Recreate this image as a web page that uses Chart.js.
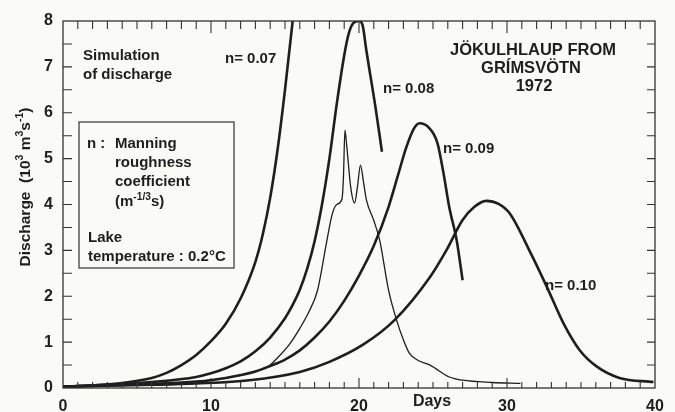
<!DOCTYPE html>
<html>
<head>
<meta charset="utf-8">
<script src="https://cdn.jsdelivr.net/npm/chart.js@4.4.1/dist/chart.umd.min.js"></script>
<style>
body { margin: 0; background: #fafaf7; }
canvas { display: block; }
</style>
</head>
<body>
<canvas id="hlaup" width="675" height="412"></canvas>
<script>
// simulated discharge (10^3 m3/s) against days
var n07Days = [0, 2, 4, 6, 7, 8, 9, 10, 11, 12, 13, 13.5, 14, 14.5, 15, 15.5, 16];
var n07Q    = [0.03, 0.06, 0.11, 0.22, 0.33, 0.5, 0.72, 1.02, 1.4, 1.95, 2.75, 3.35, 4.15, 5.2, 6.5, 7.95, 9.5];

var n08Days = [0, 3, 6, 9, 10, 11, 12, 13, 14, 15, 15.5, 16, 16.5, 17, 17.5, 18, 18.5, 19.0, 19.3, 19.6, 20.0, 20.25, 20.5, 20.8, 21.1, 21.55];
var n08Q    = [0.03, 0.07, 0.13, 0.24, 0.32, 0.43, 0.58, 0.8, 1.1, 1.52, 1.8, 2.14, 2.6, 3.2, 4.0, 5.0, 6.2, 7.25, 7.72, 7.95, 8.0, 7.9, 7.35, 6.75, 6.15, 5.15];

var n09Days = [0, 3, 6, 9, 11, 13, 14, 15, 16, 17, 18, 19, 20, 21, 22, 22.6, 23.2, 23.7, 24.1, 24.7, 25.3, 25.7, 26.1, 26.6, 27.0];
var n09Q    = [0.03, 0.06, 0.09, 0.14, 0.22, 0.36, 0.48, 0.62, 0.82, 1.1, 1.45, 1.9, 2.45, 3.1, 3.95, 4.6, 5.25, 5.65, 5.77, 5.68, 5.34, 4.7, 3.94, 3.22, 2.35];

var n10Days = [0, 3, 6, 9, 12.6, 16, 18, 20.3, 22.4, 24.8, 25.9, 27, 27.8, 28.6, 29.4, 30.2, 31.6, 32.7, 33.8, 34.9, 36.1, 37.6, 39.9];
var n10Q    = [0.03, 0.05, 0.07, 0.1, 0.17, 0.35, 0.57, 0.95, 1.48, 2.42, 3.0, 3.66, 3.95, 4.08, 4.02, 3.8, 2.94, 2.2, 1.42, 0.83, 0.46, 0.22, 0.13];

// thin curve with the double spike
var thinDays = [0, 3, 6, 9, 11, 13, 14, 14.5, 15.3, 16, 16.6, 17.2, 17.8, 18.2, 18.5, 18.85, 18.95, 19.05, 19.15, 19.45, 19.7, 19.9, 20.1, 20.3, 20.5, 21.0, 21.4, 22.0, 22.6, 23.0, 23.4, 24.0, 24.8, 26.1, 27.0, 29, 30.9];
var thinQ    = [0.03, 0.06, 0.09, 0.14, 0.22, 0.36, 0.5, 0.66, 0.95, 1.3, 1.65, 2.13, 3.16, 3.8, 4.0, 4.12, 4.6, 5.62, 5.35, 4.35, 4.03, 4.4, 4.86, 4.5, 4.1, 3.65, 3.22, 2.13, 1.42, 1.05, 0.76, 0.6, 0.5, 0.24, 0.17, 0.12, 0.1];

var xTicks = [0, 10, 20, 30, 40];
var yTicks = [0, 1, 2, 3, 4, 5, 6, 7, 8];

var ink = '#1e1e1e';
var bold = 'bold 15px "Liberation Sans", Arial, sans-serif';

function pts(days, q) {
  return days.map(function (d, i) { return { x: d, y: q[i] }; });
}

function curve(label, days, q, w) {
  return {
    label: label,
    data: pts(days, q),
    borderColor: ink,
    borderWidth: w,
    pointRadius: 0,
    fill: false,
    cubicInterpolationMode: 'monotone'
  };
}

// draws text with superscript parts, parts = [[text, isSup], ...]
function richText(ctx, x, y, parts, size, align) {
  var w = 0;
  parts.forEach(function (p) {
    ctx.font = 'bold ' + (p[1] ? size * 0.68 : size) + 'px "Liberation Sans", Arial, sans-serif';
    w += ctx.measureText(p[0]).width;
  });
  var cx = align === 'center' ? x - w / 2 : x;
  ctx.textAlign = 'left';
  parts.forEach(function (p) {
    ctx.font = 'bold ' + (p[1] ? size * 0.68 : size) + 'px "Liberation Sans", Arial, sans-serif';
    ctx.fillText(p[0], cx, p[1] ? y - size * 0.42 : y);
    cx += ctx.measureText(p[0]).width;
  });
}

var paper = {
  id: 'paper',
  beforeDraw: function (chart) {
    var c = chart.ctx;
    c.save();
    c.fillStyle = '#fafaf7';
    c.fillRect(0, 0, chart.width, chart.height);
    c.restore();
  },
  afterDraw: function (chart) {
    var c = chart.ctx, a = chart.chartArea;
    var xs = chart.scales.x, ys = chart.scales.y;
    c.save();
    c.strokeStyle = '#333';
    c.lineWidth = 1.3;
    c.strokeRect(a.left, a.top, a.right - a.left, a.bottom - a.top);

    // inward tick marks
    c.lineWidth = 1.1;
    c.beginPath();
    for (var d = 1; d < 40; d++) {
      var px = xs.getPixelForValue(d);
      var big = d % 10 === 0;
      c.moveTo(px, a.bottom); c.lineTo(px, a.bottom - (big ? 10 : 6));
      c.moveTo(px, a.top); c.lineTo(px, a.top + (big ? 12 : 8));
    }
    for (var v = 0.5; v < 8; v += 0.5) {
      var py = ys.getPixelForValue(v);
      c.moveTo(a.left, py); c.lineTo(a.left + 9, py);
      c.moveTo(a.right, py); c.lineTo(a.right - 8, py);
    }
    c.stroke();

    c.fillStyle = ink;
    c.textBaseline = 'alphabetic';
    c.font = bold;
    c.textAlign = 'left';
    c.fillText('Simulation', 83, 60);
    c.fillText('of discharge', 83, 79);
    c.fillText('n= 0.07', 225, 63);
    c.fillText('n= 0.08', 383, 93);
    c.fillText('n= 0.09', 443, 153);
    c.fillText('n= 0.10', 545, 290);

    c.font = 'bold 16.5px "Liberation Sans", Arial, sans-serif';
    c.textAlign = 'center';
    c.fillText('JÖKULHLAUP FROM', 533, 55);
    c.fillText('GRÍMSVÖTN', 531, 73);
    c.fillText('1972', 534, 91);
    c.font = 'bold 16px "Liberation Sans", Arial, sans-serif';
    c.fillText('Days', 432, 406);

    // legend box
    c.lineWidth = 1.2;
    c.strokeRect(79, 122, 155, 146);
    c.font = bold;
    c.textAlign = 'left';
    c.fillText('n :', 87, 148);
    c.fillText('Manning', 115, 148);
    c.fillText('roughness', 115, 167);
    c.fillText('coefficient', 115, 186);
    richText(c, 115, 206, [['(m', false], ['-1/3', true], ['s)', false]], 15, 'left');
    c.fillText('Lake', 88, 242);
    c.fillText('temperature : 0.2°C', 88, 261);

    // y axis title
    c.translate(30, 187);
    c.rotate(-Math.PI / 2);
    richText(c, 0, 0, [['Discharge  (10', false], ['3', true], [' m', false], ['3', true], ['s', false], ['-1', true], [')', false]], 15.5, 'center');
    c.restore();
  }
};

var ctx = document.getElementById('hlaup').getContext('2d');
var hlaup = new Chart(ctx, {
  type: 'line',
  data: {
    datasets: [
      curve('n= 0.07', n07Days, n07Q, 2.6),
      curve('n= 0.08', n08Days, n08Q, 2.6),
      curve('n= 0.09', n09Days, n09Q, 2.6),
      curve('n= 0.10', n10Days, n10Q, 2.6),
      curve('thin', thinDays, thinQ, 1.3)
    ]
  },
  options: {
    responsive: false,
    animation: false,
    devicePixelRatio: 1,
    layout: { padding: { top: 21, right: 20, left: 0, bottom: 0 } },
    plugins: {
      legend: { display: false },
      tooltip: { enabled: false }
    },
    scales: {
      x: {
        type: 'linear',
        min: 0,
        max: 40,
        afterBuildTicks: function (s) { s.ticks = xTicks.map(function (v) { return { value: v }; }); },
        afterFit: function (s) { s.height = 24; },
        ticks: { color: ink, padding: 9, font: { family: '"Liberation Sans", Arial', size: 16, weight: 'bold' } },
        grid: { display: false, drawTicks: false },
        border: { display: false }
      },
      y: {
        min: 0,
        max: 8,
        afterBuildTicks: function (s) { s.ticks = yTicks.map(function (v) { return { value: v }; }); },
        afterFit: function (s) { s.width = 63; },
        ticks: { color: ink, padding: 10, font: { family: '"Liberation Sans", Arial', size: 16, weight: 'bold' } },
        grid: { display: false, drawTicks: false },
        border: { display: false }
      }
    }
  },
  plugins: [paper]
});
</script>
</body>
</html>
